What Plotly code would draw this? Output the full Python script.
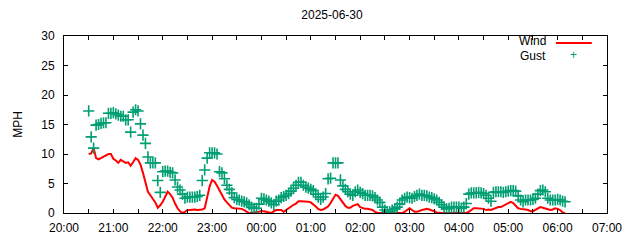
import pandas as pd
import plotly.graph_objects as go

# Observation timestamps: one reading every 3 minutes from 20:30 to 06:09
start_time = "2025-06-30 20:30"
n_obs = 194
times = pd.date_range(start=start_time, periods=n_obs, freq="3min")

wind = [
    10.0, 10.1, 11.0, 9.3, 9.1, 9.3, 9.5, 9.8, 10.0, 10.0,
    9.2, 8.9, 8.5, 9.0, 8.8, 8.5, 8.6, 8.0, 8.6, 9.3,
    9.0, 8.2, 6.8, 5.2, 3.6, 3.0, 2.4, 1.8, 0.9, 1.3,
    1.9, 2.8, 3.6, 3.2, 2.6, 1.6, 0.8, 0.3, 0.0, 0.2,
    0.5, 0.5, 0.6, 0.6, 0.5, 0.5, 0.6, 0.8, 2.8, 4.5,
    5.6, 5.3, 4.6, 3.8, 2.9, 2.3, 1.8, 1.4, 0.9, 0.8,
    0.8, 0.8, 0.7, 0.5, 0.3, 0.0, 0.0, 0.1, 0.2, 0.2,
    0.3, 0.3, 0.2, 0.1, 0.0, 0.3, 0.5, 0.5, 0.5, 0.2,
    0.5, 0.9, 1.1, 1.4, 1.6, 2.0, 2.0, 2.0, 1.9, 1.9,
    1.8, 1.5, 1.1, 0.7, 0.5, 0.6, 0.8, 1.1, 1.7, 2.5,
    3.1, 2.9, 2.3, 1.7, 1.2, 0.9, 0.9, 1.2, 1.4, 1.5,
    1.0, 0.8, 0.7, 0.7, 0.6, 0.5, 0.2, 0.0, 0.0, 0.0,
    0.0, 0.0, 0.0, 0.0, 0.0, 0.0, 0.0, 0.0, 0.2, 0.5,
    0.8, 0.5, 0.2, 0.2, 0.4, 0.5, 0.6, 0.7, 0.6, 0.5,
    0.3, 0.1, 0.0, 0.0, 0.0, 0.0, 0.0, 0.0, 0.0, 0.0,
    0.0, 0.0, 0.0, 0.0, 0.2, 0.5, 0.8, 0.8, 0.8, 0.8,
    0.7, 0.5, 0.6, 0.5, 0.7, 0.8, 1.0, 1.0, 1.2, 1.4,
    1.6, 1.9, 1.7, 1.2, 0.8, 0.7, 0.7, 0.6, 0.5, 0.3,
    0.3, 0.5, 0.8, 1.0, 0.9, 0.8, 0.6, 0.5, 0.6, 0.8,
    0.7, 0.5, 0.1, 0.0,
]

gust = [
    17.3, 12.9, 11.0, 14.9, 15.0, 15.2, 15.3, 15.3, 16.9, 16.9,
    17.0, 16.8, 16.6, 16.4, 16.4, 15.8, 15.8, 13.7, 17.1, 17.5,
    17.3, 15.1, 13.2, 11.8, 9.5, 8.5, 8.5, 8.5, 5.5, 3.5,
    7.0, 7.1, 7.1, 6.9, 6.8, 5.6, 4.4, 3.9, 3.2, 2.5,
    2.7, 2.7, 2.7, 2.7, 2.8, 3.0, 5.5, 7.3, 9.3, 10.2,
    10.2, 10.2, 10.0, 7.0, 6.8, 5.8, 4.7, 4.0, 3.4, 2.6,
    2.3, 2.2, 2.0, 1.9, 1.7, 1.4, 1.0, 0.8, 0.8, 1.5,
    2.5, 2.4, 2.2, 2.0, 1.7, 1.4, 2.0, 2.2, 2.6, 2.8,
    3.0, 3.3, 3.7, 4.2, 4.7, 5.2, 5.2, 4.7, 4.4, 4.2,
    4.0, 3.8, 3.2, 2.7, 2.3, 2.7, 3.3, 5.8, 5.9, 8.5,
    8.5, 8.5, 5.6, 4.6, 4.0, 3.6, 3.2, 3.0, 3.6, 3.9,
    3.5, 3.3, 3.0, 3.0, 3.0, 2.9, 2.6, 2.2, 1.8, 1.0,
    0.5, 0.2, 0.2, 0.5, 0.7, 1.0, 1.5, 2.2, 2.5, 2.7,
    2.6, 2.5, 2.8, 3.0, 3.2, 3.0, 3.0, 2.9, 2.7, 2.6,
    2.4, 2.2, 1.8, 1.4, 1.0, 0.7, 0.8, 1.0, 1.0, 1.0,
    1.0, 0.8, 1.0, 1.6, 3.2, 3.4, 3.4, 3.4, 3.5, 3.4,
    3.3, 3.0, 2.5, 2.0, 3.5, 3.6, 3.6, 3.6, 3.5, 3.6,
    3.7, 3.8, 3.8, 3.7, 2.9, 2.2, 1.9, 2.2, 2.2, 2.2,
    2.3, 2.5, 3.2, 3.8, 3.9, 3.6, 2.5, 2.2, 2.2, 2.2,
    2.3, 2.2, 2.0, 1.9,
]

title_text = "2025-06-30"
y_label = "MPH"
x_start = "2025-06-30 20:00"
x_end = "2025-07-01 07:00"
y_ticks = [0, 5, 10, 15, 20, 25, 30]

FONT = "Liberation Sans, Arial, sans-serif"
RED = "#ff0000"
GREEN = "#009e73"

fig = go.Figure()
fig.add_trace(go.Scatter(
    x=times, y=wind, mode="lines", name="Wind",
    line=dict(color=RED, width=2), showlegend=False,
))
fig.add_trace(go.Scatter(
    x=times, y=gust, mode="markers", name="Gust",
    marker=dict(symbol="cross-thin", size=8, color=GREEN,
                line=dict(color=GREEN, width=1.6)),
    showlegend=False,
))

# gnuplot-style key (text left, sample right)
fig.add_annotation(x=0.8913, y=0.972, xref="paper", yref="paper", text="Wind",
                   showarrow=False, xanchor="right", yanchor="middle",
                   font=dict(family=FONT, size=12, color="black"))
fig.add_annotation(x=0.8913, y=0.888, xref="paper", yref="paper", text="Gust",
                   showarrow=False, xanchor="right", yanchor="middle",
                   font=dict(family=FONT, size=12, color="black"))
fig.add_shape(type="line", xref="paper", yref="paper",
              x0=0.906, x1=0.972, y0=0.960, y1=0.960,
              line=dict(color=RED, width=2))
fig.add_annotation(x=0.939, y=0.893, xref="paper", yref="paper", text="+",
                   showarrow=False, xanchor="center", yanchor="middle",
                   font=dict(family=FONT, size=12, color=GREEN))

fig.update_layout(
    width=640, height=240,
    margin=dict(l=64, r=33, t=36, b=27),
    paper_bgcolor="white", plot_bgcolor="white",
    font=dict(family=FONT, size=12, color="black"),
    title=dict(text=title_text, x=0.4936, xref="paper", y=1 - 15 / 240,
               yref="container", xanchor="center", yanchor="middle",
               font=dict(family=FONT, size=12, color="black")),
    showlegend=False,
)
fig.update_xaxes(
    range=[x_start, x_end], type="date", automargin=False,
    tick0=x_start, dtick=3600000, tickformat="%H:%M",
    ticks="inside", ticklen=4, tickcolor="black", tickwidth=1,
    minor=dict(dtick=1800000, ticks="inside", ticklen=4, tickcolor="black"),
    showline=True, linecolor="black", linewidth=1, mirror="allticks",
    showgrid=False, zeroline=False, ticklabelstandoff=4,
    tickfont=dict(family=FONT, size=12, color="black"),
)
fig.update_yaxes(
    range=[0, 30], tickvals=y_ticks, automargin=False,
    ticks="inside", ticklen=4, tickcolor="black", tickwidth=1,
    showline=True, linecolor="black", linewidth=1, mirror="allticks",
    showgrid=False, zeroline=False, ticklabelstandoff=6,
    title=dict(text=y_label, font=dict(family=FONT, size=12, color="black"), standoff=16),
    tickfont=dict(family=FONT, size=12, color="black"),
)

fig.write_html("out.html")
